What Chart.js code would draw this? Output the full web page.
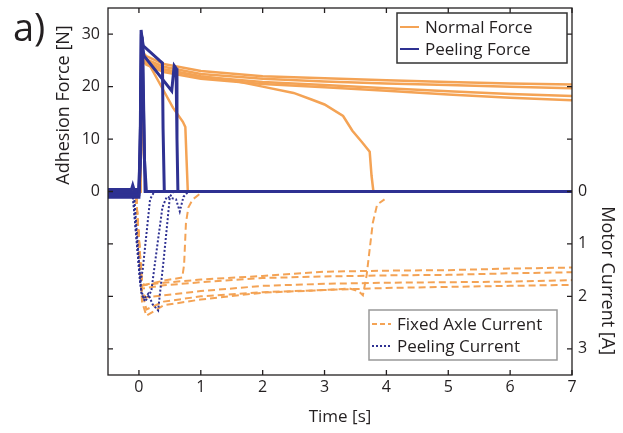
<!DOCTYPE html>
<html>
<head>
<meta charset="utf-8">
<script src="https://cdn.jsdelivr.net/npm/chart.js@4"></script>
<style>
body { margin: 0; background: #fff; }
canvas { display: block; }
</style>
</head>
<body>
<canvas id="myChart" width="623" height="433"></canvas>
<script>
// tick labels
const timeTicks = [0, 1, 2, 3, 4, 5, 6, 7];
const forceTicks = [0, 10, 20, 30];
const currentTicks = [0, 1, 2, 3];

// shared time bases for the runs that stay attached [s]
const forceT = [-0.5, 0.02, 0.06, 0.12, 0.4, 1, 2, 3, 4, 5, 6, 7];
const currentT = [-0.5, -0.05, 0.05, 0.12, 0.4, 1, 2, 3, 4, 5, 6, 7];

// Normal force [N]
const normal1 = [0, 0, 26.5, 25.8, 24.3, 23.0, 22.0, 21.6, 21.2, 20.9, 20.6, 20.4];
const normal2 = [0, 0, 26.0, 25.2, 23.8, 22.4, 21.5, 21.0, 20.6, 20.3, 20.0, 19.7];
const normal3 = [0, 0, 25.5, 24.6, 23.2, 21.9, 20.9, 20.3, 19.7, 19.1, 18.6, 18.2];
const normal4 = [0, 0, 25.0, 24.2, 22.8, 21.5, 20.5, 19.9, 19.2, 18.5, 17.9, 17.4];
const normal5T = [-0.5, 0.02, 0.06, 0.12, 0.4, 1, 1.5, 2, 2.5, 2.8, 3, 3.3, 3.45, 3.6, 3.73, 3.76, 3.79, 7];
const normal5 = [0, 0, 25.5, 24.8, 23.3, 22.0, 21.2, 20.0, 18.8, 17.5, 16.6, 14.4, 11.6, 9.5, 7.6, 3, 0, 0];
const normal6T = [-0.5, 0.02, 0.06, 0.13, 0.34, 0.55, 0.71, 0.75, 0.77, 0.79];
const normal6 = [0, 0, 25.5, 25.0, 20.5, 16.0, 13.3, 12.3, 6, 0];

// Peeling force [N]
const peel1T = [-0.5, -0.12, -0.1, -0.08, 0.0, 0.02, 0.035, 0.06, 0.09, 0.12, 7];
const peel1 = [0.4, 0.4, 1.2, 0.4, 0.4, 8, 30.8, 28, 6, 0, 0];
const peel2T = [-0.5, 0.0, 0.02, 0.04, 0.07, 0.34, 0.38, 0.39, 0.41, 7];
const peel2 = [-0.6, -0.6, 6, 30, 27.8, 24.9, 24.5, 12, 0, 0];
const peel3T = [-0.5, 0.0, 0.02, 0.045, 0.08, 0.53, 0.57, 0.6, 0.615, 0.63, 7];
const peel3 = [-1.1, -1.1, 5, 29, 25.9, 19.2, 24, 23.5, 10, 0, 0];
const peel4T = [-0.5, 0.0, 0.03, 0.05, 0.08, 0.1, 7];
const peel4 = [-0.2, -0.2, 15, 29.5, 12, 0, 0];

// Fixed axle current [A]
const fixed1 = [0, 0, 1.80, 1.78, 1.74, 1.68, 1.61, 1.53, 1.51, 1.50, 1.47, 1.45];
const fixed2 = [0, 0, 1.85, 1.84, 1.79, 1.73, 1.65, 1.62, 1.60, 1.59, 1.56, 1.54];
const fixed3 = [0, 0, 1.95, 2.02, 1.98, 1.90, 1.80, 1.76, 1.74, 1.73, 1.72, 1.69];
const fixed4 = [0, 0, 2.10, 2.37, 2.17, 2.06, 1.93, 1.88, 1.84, 1.82, 1.80, 1.78];
const fixed5T = [-0.5, -0.05, 0.05, 0.12, 0.4, 1, 2, 3, 3.4, 3.55, 3.62, 3.68, 3.72, 3.78, 3.85, 3.97];
const fixed5 = [0, 0, 1.9, 2.25, 2.1, 2.0, 1.92, 1.88, 1.85, 1.9, 1.98, 1.6, 1.2, 0.6, 0.25, 0.15];
const fixed6T = [-0.5, -0.05, 0.05, 0.1, 0.4, 0.7, 0.73, 0.76, 0.8, 0.87, 0.98];
const fixed6 = [0, 0, 1.75, 1.78, 1.7, 1.64, 1.4, 0.6, 0.3, 0.15, 0.05];

// Peeling current [A]
const pcur1T = [-0.5, -0.1, 0.02, 0.06, 0.18, 0.25, 7];
const pcur1 = [0, 0.05, 1.75, 1.5, 0.15, 0, 0];
const pcur2T = [-0.5, -0.1, 0.03, 0.08, 0.15, 0.22, 0.31, 0.4, 0.5, 0.56, 7];
const pcur2 = [0, 0.05, 1.85, 2.05, 1.95, 2.15, 2.27, 1.3, 0.1, 0, 0];
const pcur3T = [-0.5, -0.08, 0.04, 0.1, 0.2, 0.3, 0.38, 0.45, 0.6, 0.66, 0.72, 0.8, 7];
const pcur3 = [0, 0.05, 1.95, 2.1, 1.9, 1.0, 0.3, 0.1, 0.15, 0.38, 0.1, 0, 0];

const INK = '#231f20';
const ORANGE = '#f4a355';
const BLUE = '#2e3192';
const FONT = '"Open Sans", sans-serif';

const ctx = document.getElementById('myChart');

function pts(t, v) {
	return t.map((x, i) => ({ x: x, y: v[i] }));
}

function line(label, t, v, axis, color, width, dash, order) {
	return {
		label: label,
		data: pts(t, v),
		yAxisID: axis,
		borderColor: color,
		borderWidth: width,
		borderDash: dash,
		pointRadius: 0,
		tension: 0,
		fill: false,
		order: order
	};
}

const datasets = [
	line('Normal Force', forceT, normal1, 'yF', ORANGE, 2.5, [], 1),
	line('Normal Force', forceT, normal2, 'yF', ORANGE, 2.5, [], 1),
	line('Normal Force', forceT, normal3, 'yF', ORANGE, 2.5, [], 1),
	line('Normal Force', forceT, normal4, 'yF', ORANGE, 2.5, [], 1),
	line('Normal Force', normal5T, normal5, 'yF', ORANGE, 2.5, [], 1),
	line('Normal Force', normal6T, normal6, 'yF', ORANGE, 2.5, [], 1),
	line('Peeling Force', peel1T, peel1, 'yF', BLUE, 3, [], 0),
	line('Peeling Force', peel2T, peel2, 'yF', BLUE, 3, [], 0),
	line('Peeling Force', peel3T, peel3, 'yF', BLUE, 3, [], 0),
	line('Peeling Force', peel4T, peel4, 'yF', BLUE, 3, [], 0),
	line('Fixed Axle Current', currentT, fixed1, 'yC', ORANGE, 2, [7, 4], 3),
	line('Fixed Axle Current', currentT, fixed2, 'yC', ORANGE, 2, [7, 4], 3),
	line('Fixed Axle Current', currentT, fixed3, 'yC', ORANGE, 2, [7, 4], 3),
	line('Fixed Axle Current', currentT, fixed4, 'yC', ORANGE, 2, [7, 4], 3),
	line('Fixed Axle Current', fixed5T, fixed5, 'yC', ORANGE, 2, [7, 4], 3),
	line('Fixed Axle Current', fixed6T, fixed6, 'yC', ORANGE, 2, [7, 4], 3),
	line('Peeling Current', pcur1T, pcur1, 'yC', BLUE, 2, [2, 2], 2),
	line('Peeling Current', pcur2T, pcur2, 'yC', BLUE, 2, [2, 2], 2),
	line('Peeling Current', pcur3T, pcur3, 'yC', BLUE, 2, [2, 2], 2)
];

const topLegend = [
	{ text: 'Normal Force', color: ORANGE, dash: [] },
	{ text: 'Peeling Force', color: BLUE, dash: [] }
];
const bottomLegend = [
	{ text: 'Fixed Axle Current', color: ORANGE, dash: [5, 3] },
	{ text: 'Peeling Current', color: BLUE, dash: [2, 2] }
];

function drawLegend(c, entries, left, top, w, rowH, edge) {
	const h = entries.length * rowH + 6;
	c.fillStyle = '#fff';
	c.fillRect(left, top, w, h);
	c.strokeStyle = edge;
	c.lineWidth = 1.5;
	c.setLineDash([]);
	c.strokeRect(left, top, w, h);
	c.font = '17px ' + FONT;
	c.textAlign = 'left';
	c.textBaseline = 'middle';
	entries.forEach((e, i) => {
		const cy = top + 3 + rowH * (i + 0.5);
		c.strokeStyle = e.color;
		c.lineWidth = 2;
		c.setLineDash(e.dash);
		c.beginPath();
		c.moveTo(left + 3, cy);
		c.lineTo(left + 22, cy);
		c.stroke();
		c.setLineDash([]);
		c.fillStyle = INK;
		c.fillText(e.text, left + 28, cy + 1);
	});
}

const decor = {
	id: 'decor',
	afterDraw(chart) {
		const c = chart.ctx;
		const a = chart.chartArea;
		const x = chart.scales.x;
		const yF = chart.scales.yF;
		const yC = chart.scales.yC;
		c.save();
		// frame
		c.strokeStyle = INK;
		c.lineWidth = 1.3;
		c.strokeRect(a.left, a.top, a.right - a.left, a.bottom - a.top);
		// inward ticks
		const tl = 5;
		c.beginPath();
		timeTicks.forEach(v => {
			const px = x.getPixelForValue(v);
			c.moveTo(px, a.bottom); c.lineTo(px, a.bottom - tl);
			c.moveTo(px, a.top); c.lineTo(px, a.top + tl);
		});
		forceTicks.forEach(v => {
			const py = yF.getPixelForValue(v);
			c.moveTo(a.left, py); c.lineTo(a.left + tl, py);
			c.moveTo(a.right, py); c.lineTo(a.right - tl, py);
		});
		currentTicks.forEach(v => {
			const py = yC.getPixelForValue(v);
			c.moveTo(a.left, py); c.lineTo(a.left + tl, py);
			c.moveTo(a.right, py); c.lineTo(a.right - tl, py);
		});
		c.stroke();

		// axis titles
		c.fillStyle = INK;
		c.font = '18px ' + FONT;
		c.textAlign = 'center';
		c.textBaseline = 'middle';
		c.save();
		c.translate(a.left - 44, yF.getPixelForValue(16.5));
		c.rotate(-Math.PI / 2);
		c.fillText('Adhesion Force [N]', 0, 0);
		c.restore();
		c.save();
		c.translate(a.right + 35, yC.getPixelForValue(1.7));
		c.rotate(Math.PI / 2);
		c.fillText('Motor Current [A]', 0, 0);
		c.restore();

		// panel letter
		c.font = '38px ' + FONT;
		c.textAlign = 'left';
		c.textBaseline = 'alphabetic';
		c.fillText('a)', 13, 41);

		// legends
		drawLegend(c, topLegend, a.right - 175, a.top + 5, 170, 22, '#333');
		drawLegend(c, bottomLegend, a.right - 203, a.bottom - 65, 188, 22, '#999');
		c.restore();
	}
};

new Chart(ctx, {
	type: 'line',
	data: { datasets: datasets },
	options: {
		responsive: false,
		animation: false,
		layout: { padding: { top: 8 } },
		plugins: {
			legend: { display: false },
			tooltip: { enabled: false }
		},
		scales: {
			x: {
				type: 'linear',
				min: -0.5,
				max: 7,
				afterBuildTicks: s => { s.ticks = timeTicks.map(v => ({ value: v })); },
				afterFit: s => { s.height = 58; s.paddingLeft = 0; s.paddingRight = 0; },
				grid: { display: false, drawTicks: false },
				border: { display: false },
				ticks: { color: INK, font: { family: FONT, size: 16 }, padding: 3, maxRotation: 0 },
				title: {
					display: true,
					text: 'Time [s]',
					color: INK,
					font: { family: FONT, size: 17 },
					padding: { top: 4, bottom: 6 }
				}
			},
			yF: {
				type: 'linear',
				position: 'left',
				min: -35,
				max: 35,
				afterBuildTicks: s => { s.ticks = forceTicks.map(v => ({ value: v })); },
				afterFit: s => { s.width = 108; s.paddingTop = 0; s.paddingBottom = 0; },
				grid: { display: false, drawTicks: false },
				border: { display: false },
				ticks: { color: INK, font: { family: FONT, size: 16 }, padding: 8 }
			},
			yC: {
				type: 'linear',
				position: 'right',
				reverse: true,
				min: -3.5,
				max: 3.5,
				afterBuildTicks: s => { s.ticks = currentTicks.map(v => ({ value: v })); },
				afterFit: s => { s.width = 51; s.paddingTop = 0; s.paddingBottom = 0; },
				grid: { display: false, drawTicks: false },
				border: { display: false },
				ticks: { color: INK, font: { family: FONT, size: 16 }, padding: 6 }
			}
		}
	},
	plugins: [decor]
});
</script>
</body>
</html>
